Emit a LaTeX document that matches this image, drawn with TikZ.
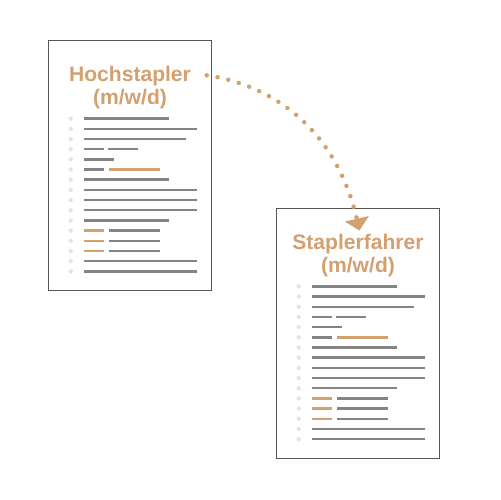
\documentclass[tikz,border=0pt]{standalone}
\usepackage[dvipsnames]{xcolor}
\usepackage{fontspec}
\setmainfont{Liberation Sans}
\usepackage{tikz}
\usetikzlibrary{arrows.meta}

\definecolor{staplertan}{RGB}{212,160,112}
\definecolor{linegrey}{RGB}{132,132,132}
\definecolor{dotgrey}{RGB}{228,228,228}
\definecolor{framegrey}{RGB}{85,85,85}

\tikzset{
  page/.style={draw=framegrey, line width=0.02cm, minimum width=3.26cm, minimum height=5cm, inner sep=0pt},
  title/.style={text=staplertan, font=\bfseries\fontsize{12}{13.2}\selectfont, align=center, inner sep=0pt},
  textline/.style={draw=linegrey, line width=0.05cm},
  accentline/.style={draw=staplertan, line width=0.05cm},
  bulletdot/.style={fill=dotgrey},
  dotarrow/.style={staplertan, line width=0.09cm, line cap=round, dash pattern=on 0pt off 0.22cm, -{Triangle[length=0.24cm,width=0.48cm]}}
}

\newcommand\doclines{%
  \foreach \i in {0,...,15}
    \fill[bulletdot] (22.7,78.6+10.18*\i) circle (2.2);
  \foreach \i/\e in {0/121,1/149,2/137.7,6/121,7/149,8/149,9/149,10/121,14/149,15/149}
    \draw[textline] (36,78.6+10.18*\i) -- (\e,78.6+10.18*\i);
  \draw[textline] (36,78.6+10.18*3) -- (56,78.6+10.18*3);
  \draw[textline] (60,78.6+10.18*3) -- (90.4,78.6+10.18*3);
  \draw[textline] (36,78.6+10.18*4) -- (66.4,78.6+10.18*4);
  \draw[textline] (36,78.6+10.18*5) -- (56,78.6+10.18*5);
  \draw[accentline] (61.4,78.6+10.18*5) -- (112.4,78.6+10.18*5);
  \foreach \i in {11,12,13} {
    \draw[accentline] (36,78.6+10.18*\i) -- (56,78.6+10.18*\i);
    \draw[textline] (61.4,78.6+10.18*\i) -- (112.4,78.6+10.18*\i);
  }
}

\begin{document}
\begin{tikzpicture}[x=0.02cm,y=-0.02cm]
\useasboundingbox (0,0) rectangle (500,500);

\node[page] (hoch) at (130,165.5) {};
\node[page] (stapler) at (358,333.3) {};

\begin{scope}[shift={(hoch.north west)}]
  \doclines
\end{scope}
\begin{scope}[shift={(stapler.north west)}]
  \doclines
\end{scope}

\node[title] (hochtitle) at (130,87.5) {Hochstapler\\(m/w/d)};
\node[title] (staplertitle) at (358,255.5) {Staplerfahrer\\(m/w/d)};

\coordinate (from) at (206.7,75.3);
\coordinate (to) at (359.5,230.5);
\draw[dotarrow] (from) .. controls (281,86.5) and (338,136.9) .. (to);

\end{tikzpicture}
\end{document}
